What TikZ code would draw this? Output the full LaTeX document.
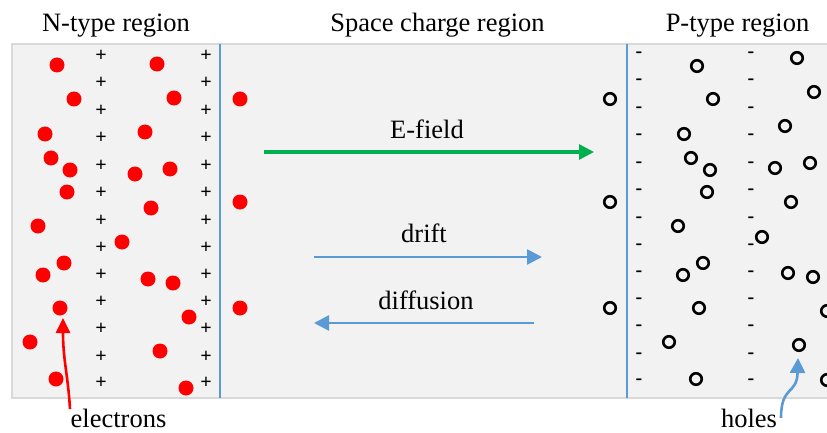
\documentclass[tikz,border=0pt]{standalone}
\usepackage{fontspec}
\setmainfont{Liberation Serif}
\usetikzlibrary{arrows.meta}
\definecolor{panelfill}{HTML}{F2F2F2}
\definecolor{panelline}{HTML}{D9D9D9}
\definecolor{sepblue}{HTML}{5B9BD5}
\definecolor{fieldgreen}{HTML}{00B050}

\begin{document}
\begin{tikzpicture}[x=1pt,y=-1pt,
  electron/.style={circle,fill=red,inner sep=0pt,minimum size=15pt},
  hole/.style={circle,draw=black,line width=2.6pt,inner sep=0pt,minimum size=11.5pt},
  headtxt/.style={font=\fontsize{26.5}{30}\selectfont,anchor=base,inner sep=0pt},
  charge/.style={font=\fontsize{20}{22}\selectfont\bfseries,inner sep=0pt},
  bigtip/.style={-{Triangle[length=15pt,width=15pt]}},
  flow/.style={sepblue,line width=2.6pt,bigtip},
  separator/.style={sepblue,line width=1.4pt}
]
\clip (0,0) rectangle (827,433);

% panel
\draw[panelline,fill=panelfill,line width=2.6pt] (12,44) rectangle (860,398);

% junction boundaries
\coordinate (bl0) at (220,44); \coordinate (bl1) at (220,398);
\coordinate (br0) at (627,44); \coordinate (br1) at (627,398);
\draw[separator] (bl0) -- (bl1);
\draw[separator] (br0) -- (br1);

% headings
\node[headtxt] (tn) at (116,32) {N-type region};
\node[headtxt] (ts) at (437.5,32) {Space charge region};
\node[headtxt] (tp) at (737.5,32) {P-type region};

% fixed charges
\foreach \y [count=\i] in {56,83,111,138,166,193,221,248,275,302,329,357,383}{
  \node[charge] (pa\i) at (101,\y) {+};
  \node[charge] (pb\i) at (206,\y) {+};
  \node[charge,yshift=1.5pt] (ma\i) at (639,\y) {-};
  \node[charge,yshift=1.5pt] (mb\i) at (751,\y) {-};
}

% free electrons in the N region
\foreach \x/\y [count=\i] in {57/65,157/64,74/99,174/98,45/134,145/132,51/158,70/170,
  135/174,170/169,67/192,151/208,38/226,122/242,64/263,43/275,148/279,173/283,
  60/308,189/317,30/342,160/351,56/379,186/388}
  \node[electron] (n\i) at (\x,\y) {};

% carriers at the edges of the space charge region
\foreach \y [count=\i] in {99,202,308}{
  \node[electron] (de\i) at (240,\y) {};
  \node[hole] (dh\i) at (610,\y) {};
}

% holes in the P region
\foreach \x/\y [count=\i] in {697/66,713/99,684/134,691/158,710/170,797/58,814/92,785/126,
  775/168,810/163,707/192,791/202,678/226,762/237,703/263,683/275,788/273,813/277,
  699/308,827/311,669/342,799/345,696/379,827/380}
  \node[hole] (h\i) at (\x,\y) {};

% field, drift and diffusion
\coordinate (ef0) at (264,152); \coordinate (ef1) at (594,152);
\draw[fieldgreen,line width=3pt,bigtip] (ef0) -- (ef1);
\node[headtxt] (lef) at (427,139) {E-field};

\coordinate (dr0) at (314,257); \coordinate (dr1) at (542,257);
\draw[flow] (dr0) -- (dr1);
\node[headtxt] (ldr) at (424,242) {drift};

\coordinate (df0) at (534,323); \coordinate (df1) at (314,323);
\draw[flow] (df0) -- (df1);
\node[headtxt] (ldf) at (426,309) {diffusion};

% carrier labels
\node[headtxt] (le) at (118.5,427) {electrons};
\node[headtxt] (lh) at (749,427) {holes};
\coordinate (es) at (70,409);
\coordinate (et) at (63,318);
\draw[red,line width=2.6pt,-{Triangle[length=15pt,width=14pt]}]
  (es) .. controls (68,375) and (63,360) .. (et);
\coordinate (hs) at (781,418);
\coordinate (ht) at (798,358);
\draw[sepblue,line width=2.6pt,-{Triangle[length=15pt,width=15pt]}]
  (hs) .. controls (781,385) and (797,395) .. (ht);
\end{tikzpicture}
\end{document}
